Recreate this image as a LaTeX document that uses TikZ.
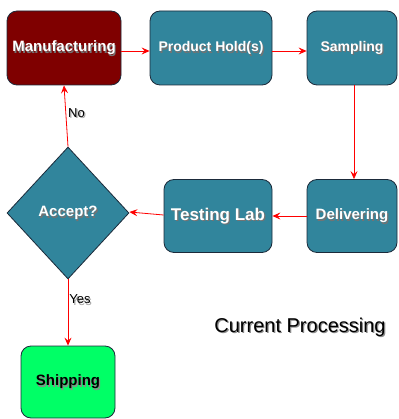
\documentclass[tikz,border=0pt]{standalone}
\usepackage{fontspec}
\setmainfont{Liberation Sans}
\usetikzlibrary{arrows.meta,shapes.geometric,positioning}
\definecolor{boxteal}{HTML}{31859C}
\definecolor{boxred}{HTML}{7F0000}
\definecolor{boxgreen}{HTML}{00FF66}
\definecolor{boxline}{HTML}{1B2A3A}
\newcommand{\shd}[2][black!55]{\rlap{\smash{\kern1.2pt\raisebox{-1.4pt}{\textcolor{#1}{#2}}}}#2}

\begin{document}
\begin{tikzpicture}[x=1pt,y=-1pt,
    box/.style={rectangle,rounded corners=10pt,draw=boxline,line width=0.8pt,
        fill=boxteal,text=white,inner sep=0pt,
        font=\bfseries\fontsize{14}{16}\selectfont},
    decide/.style={diamond,draw=boxline,line width=0.8pt,fill=boxteal,
        text=white,inner sep=0pt,font=\bfseries\fontsize{15}{17}\selectfont},
    flow/.style={red,line width=0.8pt,-{Stealth[length=8pt,width=7pt,inset=3pt]}},
    tag/.style={text=black,font=\fontsize{13}{15}\selectfont,inner sep=1pt}]

    \useasboundingbox (0,0) rectangle (398,419);

    \node[box,fill=boxred,minimum width=114pt,minimum height=74pt,
        font=\bfseries\fontsize{15}{17}\selectfont] (man) at (64,48) {\shd{Manufacturing}};
    \node[box,minimum width=122pt,minimum height=74pt] (hold) at (211,48) {\shd{Product Hold(s)}};
    \node[box,minimum width=90pt,minimum height=74pt] (samp) at (352,48) {\shd{Sampling}};
    \node[box,minimum width=90pt,minimum height=73pt,
        font=\bfseries\fontsize{15}{17}\selectfont] (deliv) at (352,216) {\shd{Delivering}};
    \node[box,minimum width=108pt,minimum height=73pt,
        font=\bfseries\fontsize{17}{19}\selectfont] (lab) at (218,216) {\shd{Testing Lab}};
    \node[decide,minimum width=122pt,minimum height=132pt] (acc) at (68,213) {\shd{Accept?}};
    \node[box,fill=boxgreen,text=black,minimum width=94pt,minimum height=72pt,
        font=\bfseries\fontsize{15}{17}\selectfont] (ship) at (68,382) {\shd[black!45]{Shipping}};

    \node[font=\fontsize{20}{22}\selectfont] (title) at (300,327) {\shd[black!45]{Current Processing}};

    \draw[flow] ([yshift=-3pt]man.east) -- ([yshift=-3pt]hold.west);
    \draw[flow] ([yshift=-3pt]hold.east) -- ([yshift=-3pt]samp.west);
    \draw[flow] ([xshift=2pt]samp.south) -- ([xshift=2pt]deliv.north);
    \draw[flow] (deliv.west) -- (lab.east);
    \draw[flow] ([yshift=1pt]lab.west) -- ([yshift=1pt]acc.east);
    \draw[flow] (acc.north) -- node[tag,pos=0.55,right=1pt] {\shd[black!35]{No}} (man.south);
    \draw[flow] (acc.south) -- node[tag,pos=0.3,right=0pt] {\shd[black!35]{Yes}} (ship.north);

\end{tikzpicture}
\end{document}
